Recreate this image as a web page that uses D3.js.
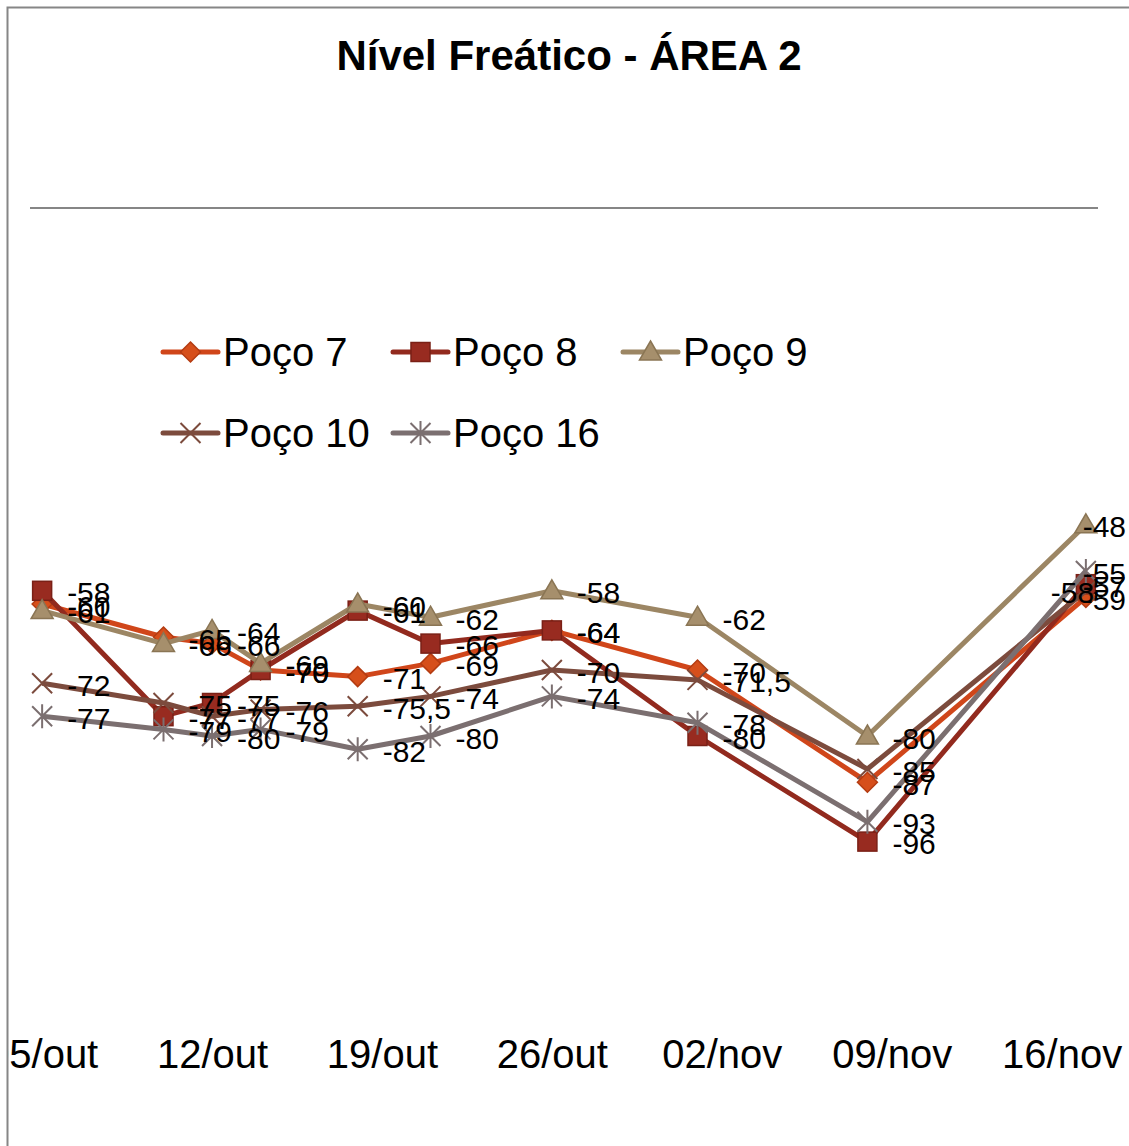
<!DOCTYPE html>
<html><head><meta charset="utf-8">
<script src="https://cdn.jsdelivr.net/npm/d3@7"></script>
<style>
html,body{margin:0;padding:0;background:#fff;}
svg{display:block;font-family:"Liberation Sans",Arial,sans-serif;}
</style></head>
<body>
<script>
// ---- data ----
const title = "Nível Freático - ÁREA 2";
const dates = ["2009-10-05","2009-10-10","2009-10-12","2009-10-14","2009-10-18","2009-10-21","2009-10-26","2009-11-01","2009-11-08","2009-11-17"];
const seriesNames = ["Poço 7","Poço 8","Poço 9","Poço 10","Poço 16"];
const poco7  = [-60,-65,-66,-70,-71,-69,-64,-70,-87,-59];
const poco8  = [-58,-77,-75,-70,-61,-66,-64,-80,-96,-57];
const poco9  = [-61,-66,-64,-69,-60,-62,-58,-62,-80,-48];
const poco10 = [-72,-75,-77,-76,-75.5,-74,-70,-71.5,-85,-58];
const poco16 = [-77,-79,-80,-79,-82,-80,-74,-78,-93,-55];
const tickDates = ["2009-10-05","2009-10-12","2009-10-19","2009-10-26","2009-11-02","2009-11-09","2009-11-16"];
const tickLabels = ["05/out","12/out","19/out","26/out","02/nov","09/nov","16/nov"];
const yDomain = [-120, 0];

// ---- styles ----
const styles = [
  {line:"#d0461a", fill:"#d64f1b", stroke:"#b43c12", marker:"diamond"},
  {line:"#922a1e", fill:"#982b20", stroke:"#7a2016", marker:"square"},
  {line:"#9c8664", fill:"#a68f6c", stroke:"#8a7554", marker:"triangle"},
  {line:"#7c4b3d", fill:"none",    stroke:"#7c4b3d", marker:"x"},
  {line:"#7b6f70", fill:"none",    stroke:"#7b6f70", marker:"star"}
];
const values = [poco7, poco8, poco9, poco10, poco16];

const W = 1129, H = 1146;
const parse = d3.utcParse("%Y-%m-%d");
const svg = d3.select("body").append("svg").attr("width", W).attr("height", H);

// chart area clip (left border at x=8)
svg.append("defs").append("clipPath").attr("id","ca")
  .append("rect").attr("x",8).attr("y",8).attr("width",W-8).attr("height",H-8);
const g = svg.append("g").attr("clip-path","url(#ca)");

// chart border
svg.append("path").attr("d",`M7.5,${H} V7.5 H${W}`).attr("fill","none")
  .attr("stroke","#868686").attr("stroke-width",2);

// title
g.append("text").attr("x",569).attr("y",70).attr("text-anchor","middle")
  .attr("font-size",42).attr("font-weight","bold").attr("fill","#000").text(title);

// scales
const d0 = parse(dates[0]), dN = parse(dates[dates.length-1]);
const halfDay = 12*3600*1000;
const x = d3.scaleUtc().domain([new Date(+d0 - halfDay), new Date(+dN + halfDay)]).range([30, 1098]);
const y = d3.scaleLinear().domain(yDomain).range([1000, 208]);

// x axis line at y=0
g.append("line").attr("x1",30).attr("x2",1098).attr("y1",y(0)).attr("y2",y(0))
  .attr("stroke","#868686").attr("stroke-width",2);

// x tick labels (low position)
const xAxis = d3.axisBottom(x).tickValues(tickDates.map(parse))
  .tickFormat((d,i)=>tickLabels[i]).tickSize(0).tickPadding(0);
const ax = g.append("g").attr("transform","translate(0,1040)").call(xAxis);
ax.select(".domain").remove();
ax.selectAll("text").attr("font-size",40).attr("fill","#000")
  .attr("font-family","'Liberation Sans',Arial,sans-serif");

// marker generator
function drawMarker(sel, type, st, cx, cy){
  const m = sel.append("g").attr("transform",`translate(${cx},${cy})`);
  if(type==="diamond"){
    m.append("path").attr("d","M0,-10 L10,0 L0,10 L-10,0Z").attr("fill",st.fill).attr("stroke",st.stroke).attr("stroke-width",1.5);
  } else if(type==="square"){
    m.append("rect").attr("x",-9.5).attr("y",-9.5).attr("width",19).attr("height",19).attr("fill",st.fill).attr("stroke",st.stroke).attr("stroke-width",1.5);
  } else if(type==="triangle"){
    m.append("path").attr("d","M0,-11 L11,8 L-11,8Z").attr("fill",st.fill).attr("stroke",st.stroke).attr("stroke-width",1.5);
  } else if(type==="x"){
    m.append("path").attr("d","M-10,-10 L10,10 M-10,10 L10,-10").attr("stroke",st.stroke).attr("stroke-width",2);
  } else if(type==="star"){
    m.append("path").attr("d","M-10,-10 L10,10 M-10,10 L10,-10 M0,-12 L0,12").attr("stroke",st.stroke).attr("stroke-width",2);
  }
}

// lines
const line = d3.line().x(d=>x(d.date)).y(d=>y(d.v));
const seriesData = values.map((arr,si)=>arr.map((v,i)=>({date:parse(dates[i]), v, si, i})));
seriesData.forEach((sd,si)=>{
  g.append("path").datum(sd).attr("d",line).attr("fill","none")
    .attr("stroke",styles[si].line).attr("stroke-width",5).attr("stroke-linejoin","round");
  sd.forEach(d=>drawMarker(g, styles[si].marker, styles[si], x(d.date), y(d.v)));
});

// data labels
const fmt = v => String(v).replace(".", ",");
const labelRight = 1126;
seriesData.forEach((sd,si)=>{
  sd.forEach(d=>{
    const t = g.append("text").attr("font-size",30).attr("fill","#000")
      .attr("dominant-baseline","central").text(fmt(d.v));
    let lx = x(d.date) + 25;
    const w = t.node().getComputedTextLength();
    if(lx + w > labelRight) lx = labelRight - w;
    // last Poço 10 label sits left of its point in the original
    if(si===3 && d.i===dates.length-1) lx = x(d.date) - 35;
    t.attr("x",lx).attr("y",y(d.v)+2);
  });
});

// legend
const legendPos = [[163,352],[393,352],[623,352],[163,433],[393,433]];
seriesNames.forEach((name,si)=>{
  const [lx,ly] = legendPos[si];
  const lg = g.append("g");
  lg.append("line").attr("x1",lx).attr("x2",lx+55).attr("y1",ly).attr("y2",ly)
    .attr("stroke",styles[si].line).attr("stroke-width",5).attr("stroke-linecap","round");
  drawMarker(lg, styles[si].marker, styles[si], lx+27.5, ly);
  lg.append("text").attr("x",lx+60).attr("y",ly).attr("dominant-baseline","central")
    .attr("font-size",40).attr("fill","#000").text(name);
});
</script>
</body></html>
